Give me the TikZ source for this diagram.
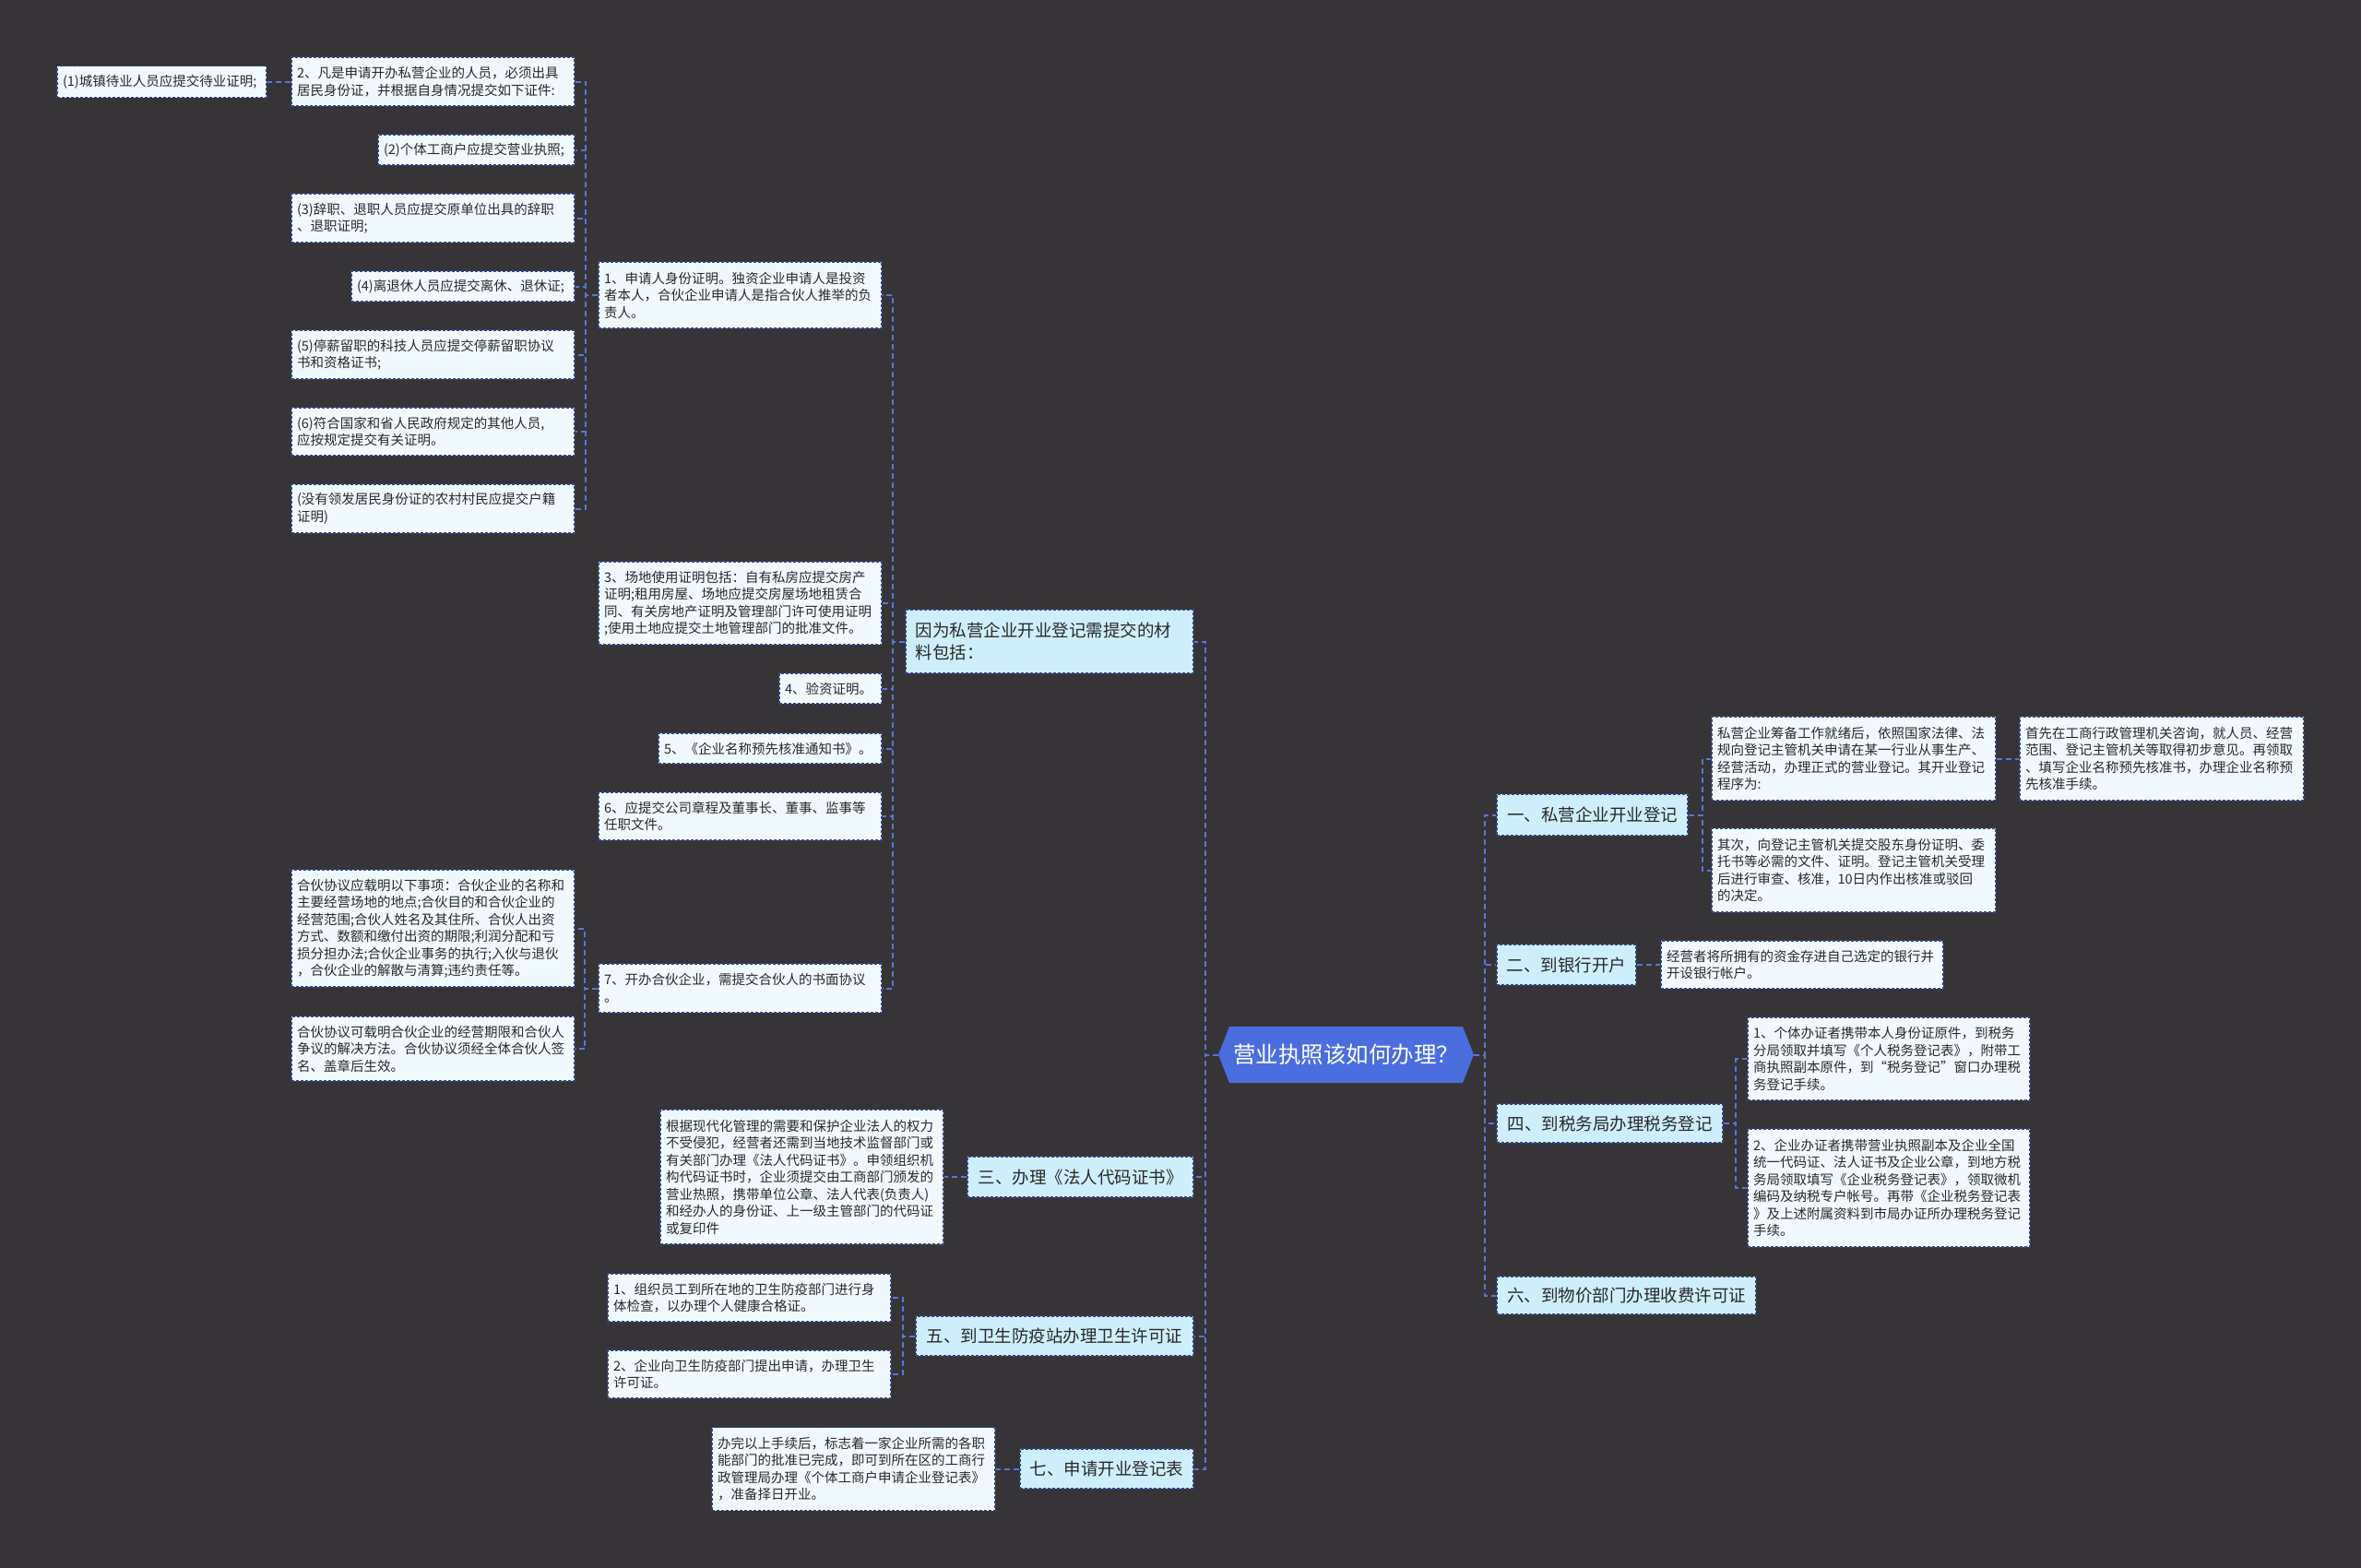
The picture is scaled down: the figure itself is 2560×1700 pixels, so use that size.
\documentclass[tikz,border=0pt]{standalone}
\usepackage{fontspec}
\setmainfont{Noto Sans CJK SC}
\definecolor{bgc}{RGB}{54,52,55}
\definecolor{leaffill}{RGB}{240,250,254}
\definecolor{lonefill}{RGB}{207,238,252}
\definecolor{leafborder}{RGB}{52,68,128}
\definecolor{connc}{RGB}{88,118,214}
\definecolor{rootc}{RGB}{74,110,222}
\definecolor{txt}{RGB}{40,40,40}
\begin{document}
\begin{tikzpicture}[x=1pt,y=-1pt,
  leaf/.style={draw=leafborder, fill=leaffill, line width=1.1pt, dash pattern=on 3pt off 2pt,
    inner xsep=6pt, inner ysep=0pt, align=left, text=txt, font=\fontsize{14.5}{18.5}\selectfont},
  lone/.style={draw=leafborder, fill=lonefill, line width=1.1pt, dash pattern=on 3pt off 2pt,
    inner xsep=6pt, inner ysep=0pt, align=center, text=txt, font=\fontsize{18.5}{23.5}\selectfont},
  conn/.style={draw=connc, line width=2pt, dash pattern=on 6pt off 4pt},
  rootnode/.style={inner sep=0pt, text=white, font=\fontsize{24.5}{28}\selectfont,
    path picture={\fill[rootc] ([xshift=12pt]path picture bounding box.north west) -- ([xshift=-12pt]path picture bounding box.north east) -- (path picture bounding box.east) -- ([xshift=-12pt]path picture bounding box.south east) -- ([xshift=12pt]path picture bounding box.south west) -- (path picture bounding box.west) -- cycle;}}
]
\fill[bgc] (0,0) rectangle (2560,1700);
\useasboundingbox (0,0) rectangle (2560,1700);

% root
\node[rootnode, minimum width=277pt, minimum height=61pt] (root) at (1459.5,1143.5) {营业执照该如何办理？};

% left level 1
\node[lone, minimum width=312pt, minimum height=69pt, text width=291pt, inner xsep=10.5pt, align=left] (L1) at (1138,695.5) {因为私营企业开业登记需提交的材\\料包括：};
\node[lone, minimum width=245pt, minimum height=44pt] (L3) at (1171.5,1276) {三、办理《法人代码证书》};
\node[lone, minimum width=301pt, minimum height=43pt] (L5) at (1143.5,1448.5) {五、到卫生防疫站办理卫生许可证};
\node[lone, minimum width=188pt, minimum height=43pt] (L7) at (1200,1592.5) {七、申请开业登记表};

% right level 1
\node[lone, minimum width=207pt, minimum height=45pt] (R1) at (1726.5,883.5) {一、私营企业开业登记};
\node[lone, minimum width=151pt, minimum height=44pt] (R2) at (1698.5,1046) {二、到银行开户};
\node[lone, minimum width=245pt, minimum height=42pt] (R4) at (1745.5,1218) {四、到税务局办理税务登记};
\node[lone, minimum width=281pt, minimum height=41pt] (R6) at (1763.5,1404.5) {六、到物价部门办理收费许可证};

% children of L1
\node[leaf, minimum width=307pt, minimum height=72pt, text width=295pt] (c1) at (802.5,320) {1、申请人身份证明。独资企业申请人是投资\\者本人，合伙企业申请人是指合伙人推举的负\\责人。};
\node[leaf, minimum width=307pt, minimum height=90pt, text width=295pt] (c3) at (802.5,654) {3、场地使用证明包括：自有私房应提交房产\\证明;租用房屋、场地应提交房屋场地租赁合\\同、有关房地产证明及管理部门许可使用证明\\;使用土地应提交土地管理部门的批准文件。};
\node[leaf, minimum width=111pt, minimum height=33pt, text width=99pt] (c4) at (900.5,746.5) {4、验资证明。};
\node[leaf, minimum width=242pt, minimum height=33pt, text width=230pt] (c5) at (835,811.5) {5、《企业名称预先核准通知书》。};
\node[leaf, minimum width=307pt, minimum height=52pt, text width=295pt] (c6) at (802.5,885) {6、应提交公司章程及董事长、董事、监事等\\任职文件。};
\node[leaf, minimum width=307pt, minimum height=53pt, text width=295pt] (c7) at (802.5,1071.5) {7、开办合伙企业，需提交合伙人的书面协议\\。};

% children of c1
\node[leaf, minimum width=307pt, minimum height=53pt, text width=295pt] (n2) at (469.5,88.5) {2、凡是申请开办私营企业的人员，必须出具\\居民身份证，并根据自身情况提交如下证件:};
\node[leaf, minimum width=227pt, minimum height=34pt, text width=215pt] (n1a) at (175.5,88.5) {(1)城镇待业人员应提交待业证明;};
\node[leaf, minimum width=213pt, minimum height=33pt, text width=201pt] (np2) at (516.5,162.5) {(2)个体工商户应提交营业执照;};
\node[leaf, minimum width=307pt, minimum height=53pt, text width=295pt] (np3) at (469.5,236.5) {(3)辞职、退职人员应提交原单位出具的辞职\\、退职证明;};
\node[leaf, minimum width=242pt, minimum height=33pt, text width=230pt] (np4) at (502,310.5) {(4)离退休人员应提交离休、退休证;};
\node[leaf, minimum width=307pt, minimum height=53pt, text width=295pt] (np5) at (469.5,384.5) {(5)停薪留职的科技人员应提交停薪留职协议\\书和资格证书;};
\node[leaf, minimum width=307pt, minimum height=52pt, text width=295pt] (np6) at (469.5,468) {(6)符合国家和省人民政府规定的其他人员,\\应按规定提交有关证明。};
\node[leaf, minimum width=307pt, minimum height=53pt, text width=295pt] (np7) at (469.5,551.5) {(没有领发居民身份证的农村村民应提交户籍\\证明)};

% children of c7
\node[leaf, minimum width=307pt, minimum height=127pt, text width=295pt] (h1) at (469.5,1006.5) {合伙协议应载明以下事项：合伙企业的名称和\\主要经营场地的地点;合伙目的和合伙企业的\\经营范围;合伙人姓名及其住所、合伙人出资\\方式、数额和缴付出资的期限;利润分配和亏\\损分担办法;合伙企业事务的执行;入伙与退伙\\，合伙企业的解散与清算;违约责任等。};
\node[leaf, minimum width=307pt, minimum height=70pt, text width=295pt] (h2) at (469.5,1137) {合伙协议可载明合伙企业的经营期限和合伙人\\争议的解决方法。合伙协议须经全体合伙人签\\名、盖章后生效。};

% child of L3
\node[leaf, minimum width=307pt, minimum height=146pt, text width=295pt] (g3) at (869.5,1276) {根据现代化管理的需要和保护企业法人的权力\\不受侵犯，经营者还需到当地技术监督部门或\\有关部门办理《法人代码证书》。申领组织机\\构代码证书时，企业须提交由工商部门颁发的\\营业热照，携带单位公章、法人代表(负责人)\\和经办人的身份证、上一级主管部门的代码证\\或复印件};

% children of L5
\node[leaf, minimum width=307pt, minimum height=52pt, text width=295pt] (w1) at (812.5,1407) {1、组织员工到所在地的卫生防疫部门进行身\\体检查，以办理个人健康合格证。};
\node[leaf, minimum width=307pt, minimum height=52pt, text width=295pt] (w2) at (812.5,1490) {2、企业向卫生防疫部门提出申请，办理卫生\\许可证。};

% child of L7
\node[leaf, minimum width=307pt, minimum height=90pt, text width=295pt] (b7) at (925.5,1592.5) {办完以上手续后，标志着一家企业所需的各职\\能部门的批准已完成，即可到所在区的工商行\\政管理局办理《个体工商户申请企业登记表》\\，准备择日开业。};

% children of R1
\node[leaf, minimum width=308pt, minimum height=91pt, text width=296pt] (r11) at (2010,822.5) {私营企业筹备工作就绪后，依照国家法律、法\\规向登记主管机关申请在某一行业从事生产、\\经营活动，办理正式的营业登记。其开业登记\\程序为:};
\node[leaf, minimum width=308pt, minimum height=91pt, text width=296pt] (r111) at (2344,822.5) {首先在工商行政管理机关咨询，就人员、经营\\范围、登记主管机关等取得初步意见。再领取\\、填写企业名称预先核准书，办理企业名称预\\先核准手续。};
\node[leaf, minimum width=308pt, minimum height=91pt, text width=296pt] (r12) at (2010,943.5) {其次，向登记主管机关提交股东身份证明、委\\托书等必需的文件、证明。登记主管机关受理\\后进行审查、核准，10日内作出核准或驳回\\的决定。};

% child of R2
\node[leaf, minimum width=306pt, minimum height=52pt, text width=294pt] (r21) at (1954,1046) {经营者将所拥有的资金存进自己选定的银行并\\开设银行帐户。};

% children of R4
\node[leaf, minimum width=306pt, minimum height=90pt, text width=294pt] (r41) at (2048,1148) {1、个体办证者携带本人身份证原件，到税务\\分局领取并填写《个人税务登记表》，附带工\\商执照副本原件，到“税务登记”窗口办理税\\务登记手续。};
\node[leaf, minimum width=306pt, minimum height=128pt, text width=294pt] (r42) at (2048,1288) {2、企业办证者携带营业执照副本及企业全国\\统一代码证、法人证书及企业公章，到地方税\\务局领取填写《企业税务登记表》，领取微机\\编码及纳税专户帐号。再带《企业税务登记表\\》及上述附属资料到市局办证所办理税务登记\\手续。};

% connectors
\foreach \c in {L1,L3,L5,L7} \draw[conn] (root.west) -- ++(-14,0) |- (\c.east);
\foreach \c in {R1,R2,R4,R6} \draw[conn] (root.east) -- ++(12,0) |- (\c.west);
\foreach \c in {c1,c3,c4,c5,c6,c7} \draw[conn] (L1.west) -- ++(-13,0) |- (\c.east);
\foreach \c in {n2,np2,np3,np4,np5,np6,np7} \draw[conn] (c1.west) -- ++(-13,0) |- (\c.east);
\draw[conn] (n2.west) -- (n1a.east);
\foreach \c in {h1,h2} \draw[conn] (c7.west) -- ++(-14,0) |- (\c.east);
\draw[conn] (L3.west) -- (g3.east);
\foreach \c in {w1,w2} \draw[conn] (L5.west) -- ++(-13.5,0) |- (\c.east);
\draw[conn] (L7.west) -- (b7.east);
\foreach \c in {r11,r12} \draw[conn] (R1.east) -- ++(15,0) |- (\c.west);
\draw[conn] (r11.east) -- (r111.west);
\draw[conn] (R2.east) -- (r21.west);
\foreach \c in {r41,r42} \draw[conn] (R4.east) -- ++(13.5,0) |- (\c.west);
\end{tikzpicture}
\end{document}
